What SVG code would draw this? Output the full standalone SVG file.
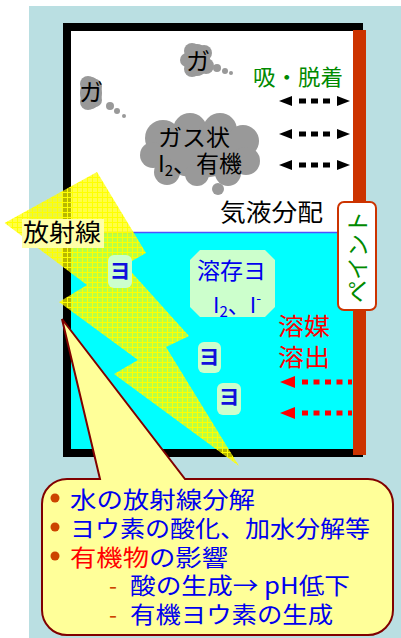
<svg xmlns="http://www.w3.org/2000/svg" width="401" height="638" viewBox="0 0 401 638">
  <style>
    text { font-family: "Noto Sans CJK JP", "Noto Sans", sans-serif; }
    .blk { fill: #000000; }
    .grn { fill: #008a00; }
    .red { fill: #ff0000; }
    .blu { fill: #0000ee; }
    .yo { fill: #1010dd; font-weight: bold; font-size: 21px; text-anchor: middle; }
    .tag { fill: #ccffcc; }
    .cloud { fill: #999999; }
    .note { font-size: 23px; fill: #0000ee; }
    .note.hot { fill: #ff0000; }
    .bul { fill: #cc4400; }
  </style>
  <defs>
    <!-- dotted yellow fill used for the radiation bolt -->
    <pattern id="dots" width="5" height="5" patternUnits="userSpaceOnUse">
      <rect width="5" height="5" fill="#ffff00" fill-opacity="0.72"/>
      <path d="M2,0h1v5h-1z M0,2h2v1h-2z M3,2h2v1h-2z" fill="#ffff00"/>
    </pattern>
    <marker id="headK" viewBox="0 0 13 10" refX="-7" refY="5" markerWidth="13" markerHeight="10" markerUnits="userSpaceOnUse" orient="auto-start-reverse">
      <path d="M0,0 L13,5 L0,10 z" fill="#000000"/>
    </marker>
    <marker id="headR" viewBox="0 0 15 12" refX="-7" refY="6" markerWidth="15" markerHeight="12" markerUnits="userSpaceOnUse" orient="auto-start-reverse">
      <path d="M0,0 L15,6 L0,12 z" fill="#ff0000"/>
    </marker>
  </defs>

  <!-- page background -->
  <rect x="29" y="6" width="372" height="632" fill="#badfe2"/>

  <!-- vessel: frame, gas space, liquid, painted wall -->
  <g id="vessel">
    <rect x="63" y="23" width="300" height="434" fill="#000000"/>
    <rect x="71" y="31" width="284" height="201" fill="#ffffff"/>
    <rect x="71" y="232" width="284" height="217" fill="#00ffff"/>
    <line x1="71" y1="232.5" x2="355" y2="232.5" stroke="#5050ff" stroke-width="1.5"/>
    <rect x="353" y="30" width="13" height="425" fill="#cc3300"/>
  </g>

  <!-- gas-phase iodine clouds -->
  <g id="gas-small-1">
    <g class="cloud">
      <ellipse cx="197" cy="60" rx="13" ry="16"/>
      <circle cx="192" cy="51" r="8"/>
      <circle cx="204" cy="53" r="8"/>
      <circle cx="206" cy="66" r="8"/>
      <circle cx="192" cy="69" r="8"/>
      <circle cx="187" cy="60" r="7"/>
      <circle cx="217" cy="68" r="4"/>
      <circle cx="225" cy="71" r="3"/>
      <circle cx="231" cy="73" r="2"/>
    </g>
    <text x="198" y="70" class="blk" font-size="24" text-anchor="middle">ガ</text>
  </g>
  <g id="gas-small-2">
    <g class="cloud">
      <ellipse cx="91" cy="93" rx="11" ry="16"/>
      <circle cx="88" cy="84" r="8"/>
      <circle cx="95" cy="86" r="7"/>
      <circle cx="95" cy="100" r="7"/>
      <circle cx="88" cy="102" r="8"/>
      <circle cx="110" cy="106" r="4"/>
      <circle cx="117" cy="111" r="3"/>
      <circle cx="124" cy="116" r="2"/>
    </g>
    <text x="91" y="101" class="blk" font-size="24" text-anchor="middle">ガ</text>
  </g>
  <g id="gas-iodine">
    <g class="cloud">
      <ellipse cx="200" cy="150" rx="46" ry="28"/>
      <circle cx="163" cy="138" r="18"/>
      <circle cx="190" cy="130" r="17"/>
      <circle cx="220" cy="130" r="17"/>
      <circle cx="243" cy="141" r="16"/>
      <circle cx="246" cy="161" r="14"/>
      <circle cx="228" cy="173" r="13"/>
      <circle cx="197" cy="174" r="12"/>
      <circle cx="167" cy="172" r="13"/>
      <circle cx="153" cy="155" r="13"/>
      <circle cx="218" cy="189" r="6"/>
    </g>
    <text x="158" y="146" class="blk" font-size="23" textLength="72" lengthAdjust="spacingAndGlyphs">ガス状</text>
    <text x="158" y="172" class="blk" font-size="23">I<tspan font-size="15" dy="4">2</tspan><tspan dy="-4">、有機</tspan></text>
  </g>

  <!-- labels in the gas space -->
  <g id="label-adsorption">
    <text x="253" y="85" class="grn" font-size="22" textLength="90" lengthAdjust="spacingAndGlyphs">吸・脱着</text>
  </g>
  <g id="label-partition">
    <text x="220" y="221" class="blk" font-size="24" textLength="103" lengthAdjust="spacingAndGlyphs">気液分配</text>
  </g>

  <!-- radiation bolt -->
  <g id="radiation">
    <polygon fill="url(#dots)" points="97,172 4.6,223 87,285 59,302 138,360 114,374 239,466 166,347 189,336 125,265 146,253"/>
    <rect x="22" y="219" width="82" height="29" fill="#ffffa8"/>
    <text x="23" y="241" class="blk" font-size="24" textLength="78" lengthAdjust="spacingAndGlyphs">放射線</text>
  </g>

  <!-- dissolved iodine -->
  <g id="dissolved">
    <polygon class="tag" points="200,250 265,250 275,260 275,307 265,317 200,317 190,307 190,260"/>
    <text x="197" y="279" class="blu" font-size="23" textLength="69" lengthAdjust="spacingAndGlyphs">溶存ヨ</text>
    <text x="213" y="313" class="blu" font-size="22">I<tspan font-size="15" dy="4">2</tspan><tspan dy="-4">、I</tspan><tspan font-size="14" dy="-10">-</tspan></text>
  </g>
  <g id="iodine-1">
    <rect class="tag" x="108" y="255" width="24" height="33" rx="6"/>
    <text x="120" y="278" class="yo">ヨ</text>
  </g>
  <g id="iodine-2">
    <rect class="tag" x="198" y="342" width="23" height="31" rx="6"/>
    <text x="209" y="364" class="yo">ヨ</text>
  </g>
  <g id="iodine-3">
    <rect class="tag" x="217" y="383" width="24" height="32" rx="6"/>
    <text x="229" y="404" class="yo">ヨ</text>
  </g>

  <!-- solvent leaching label -->
  <g id="label-leaching">
    <text x="278" y="335" class="red" font-size="24" textLength="52" lengthAdjust="spacingAndGlyphs">溶媒</text>
    <text x="278" y="366" class="red" font-size="24" textLength="52" lengthAdjust="spacingAndGlyphs">溶出</text>
  </g>

  <!-- paint on the wall -->
  <g id="paint">
    <rect x="338" y="202" width="38" height="108" rx="6" fill="#ffffff" stroke="#cc3300" stroke-width="2"/>
    <text x="357" y="266" class="grn" font-size="23" text-anchor="middle" transform="rotate(-90 357 257)">ペイント</text>
  </g>

  <!-- transfer arrows -->
  <g id="connectors" fill="none">
    <line x1="299" y1="101" x2="330" y2="101" stroke="#000000" stroke-width="5" stroke-dasharray="7 5" marker-start="url(#headK)" marker-end="url(#headK)"/>
    <line x1="299" y1="134" x2="330" y2="134" stroke="#000000" stroke-width="5" stroke-dasharray="7 5" marker-start="url(#headK)" marker-end="url(#headK)"/>
    <line x1="299" y1="165" x2="330" y2="165" stroke="#000000" stroke-width="5" stroke-dasharray="7 5" marker-start="url(#headK)" marker-end="url(#headK)"/>
    <line x1="302" y1="382" x2="352" y2="382" stroke="#ff0000" stroke-width="5" stroke-dasharray="6 5.5" marker-start="url(#headR)"/>
    <line x1="302" y1="413" x2="352" y2="413" stroke="#ff0000" stroke-width="5" stroke-dasharray="6 5.5" marker-start="url(#headR)"/>
  </g>

  <!-- callout with radiolysis notes -->
  <g id="callout">
    <path d="M67,479 L100,479 L62,319 L185,479 L368,479 A25,25 0 0 1 393,504 L393,610 A25,25 0 0 1 368,635 L67,635 A25,25 0 0 1 42,610 L42,504 A25,25 0 0 1 67,479 Z" fill="#ffff99" stroke="#800000" stroke-width="2"/>
    <circle class="bul" cx="55" cy="498" r="4.5"/>
    <circle class="bul" cx="55" cy="527" r="4.5"/>
    <circle class="bul" cx="55" cy="556" r="4.5"/>
    <text x="70" y="508" class="note" textLength="185" lengthAdjust="spacingAndGlyphs">水の放射線分解</text>
    <text x="70" y="537" class="note" textLength="300" lengthAdjust="spacingAndGlyphs">ヨウ素の酸化、加水分解等</text>
    <text x="70" y="566" class="note hot" textLength="79" lengthAdjust="spacingAndGlyphs">有機物</text>
    <text x="149" y="566" class="note" textLength="79" lengthAdjust="spacingAndGlyphs">の影響</text>
    <text x="109" y="594" class="note bul">-</text>
    <text x="130" y="594" class="note" textLength="220" lengthAdjust="spacingAndGlyphs">酸の生成→ pH低下</text>
    <text x="109" y="623" class="note bul">-</text>
    <text x="130" y="623" class="note" textLength="203" lengthAdjust="spacingAndGlyphs">有機ヨウ素の生成</text>
  </g>
</svg>
